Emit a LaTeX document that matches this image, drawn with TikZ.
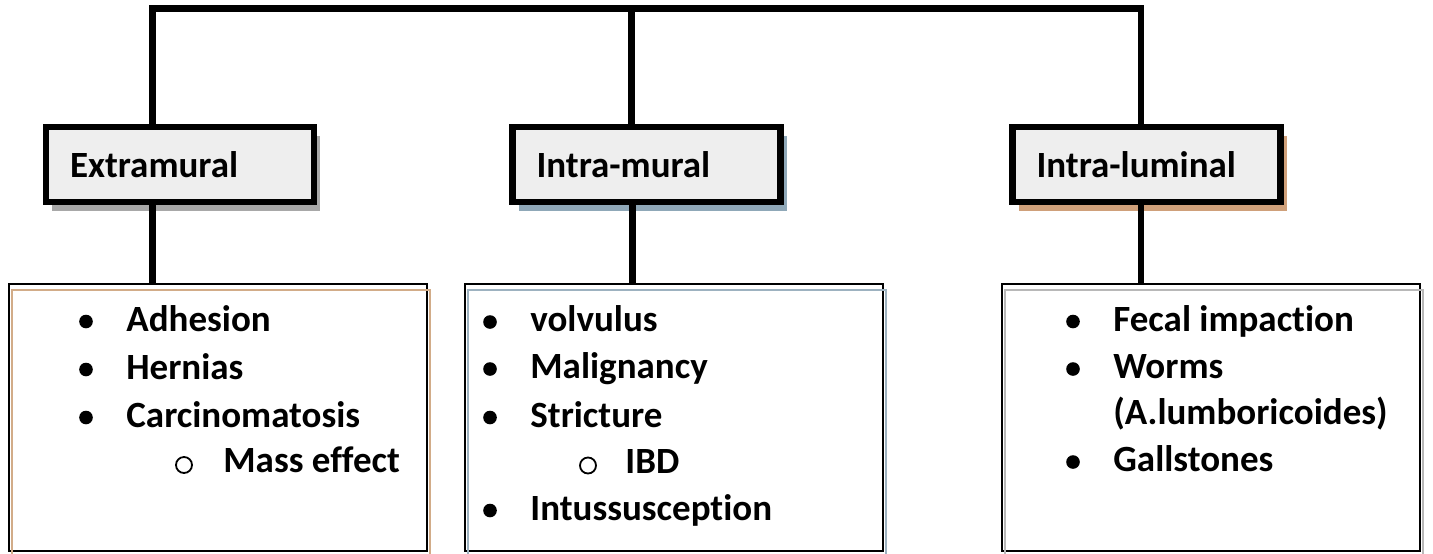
\documentclass[tikz,border=0pt]{standalone}
\usepackage{fontspec}
\setmainfont{Carlito}[Ligatures={NoCommon,NoContextual}]
\usetikzlibrary{shadows,calc}
\definecolor{hdrfill}{HTML}{EEEEEE}
\definecolor{shA}{HTML}{A8A8A8}
\definecolor{shB}{HTML}{8FA8B8}
\definecolor{shC}{HTML}{CFA07A}
\definecolor{lnA}{HTML}{D2AC88}
\definecolor{lnB}{HTML}{9DB2C0}
\definecolor{lnC}{HTML}{B8B8B8}
\begin{document}
\begin{tikzpicture}[x=0.5pt,y=-0.5pt,
  conn/.style={line width=3.4pt},
  hdr/.style={draw, line width=3.2pt, fill=hdrfill, minimum width=134pt,
    minimum height=37.5pt, inner xsep=0pt, inner ysep=0pt, text width=110pt,
    align=left, outer sep=0pt, font=\bfseries\fontsize{18.5}{22}\selectfont},
  hshadow/.style={drop shadow={shadow xshift=3pt, shadow yshift=-4.5pt, fill=#1, opacity=1}},
  lowbox/.style={draw, line width=0.8pt, fill=white, minimum width=209pt,
    minimum height=133.75pt, inner sep=0pt, outer sep=0pt},
  inline/.style={draw=#1, line width=0.8pt},
  item/.style={anchor=base west, inner sep=0pt, font=\bfseries\fontsize{18.5}{22}\selectfont},
  dot/.style={fill=black},
  ring/.style={draw=black, line width=0.9pt}
]
\useasboundingbox (0,0) rectangle (1433,553);

% header boxes
\node[hdr, hshadow=shA] (h1) at (180,164.5) {Extramural};
\node[hdr, hshadow=shB] (h2) at (646.5,164.5) {Intra-mural};
\node[hdr, hshadow=shC] (h3) at (1146.5,164.5) {Intra-luminal};

% lower boxes
\node[lowbox] (b1) at (218,417.5) {};
\node[lowbox] (b2) at (674,417.5) {};
\node[lowbox] (b3) at (1211,417.5) {};
\draw[inline=lnA] ($(b1.south west)+(3,6)$) rectangle ($(b1.north east)+(3,6)$);
\draw[inline=lnB] ($(b2.south west)+(3,6)$) rectangle ($(b2.north east)+(3,6)$);
\draw[inline=lnC] ($(b3.south west)+(3,6)$) rectangle ($(b3.north east)+(3,6)$);

% connectors
\coordinate (tl) at (152.7,8.8);
\coordinate (tm) at (631.5,8.8);
\coordinate (tr) at (1141,8.8);
\coordinate (bm) at (632.5,250);
\draw[conn] (tl |- h1.north) -- (tl) -- (tr) -- (tr |- h3.north);
\draw[conn] (tm) -- (tm |- h2.north);
\draw[conn] (tl |- h1.south) -- (tl |- b1.north);
\draw[conn] (bm |- h2.south) -- (bm |- b2.north);
\draw[conn] (tr |- h3.south) -- (tr |- b3.north);

% left list
\fill[dot] (86,321.5) circle (3.4pt);
\fill[dot] (86,369.5) circle (3.4pt);
\fill[dot] (86,417.5) circle (3.4pt);
\draw[ring] (184,465) circle (4pt);
\node[item] (l1) at (126,331) {Adhesion};
\node[item] (l2) at (126,379) {Hernias};
\node[item] (l3) at (126,427) {Carcinomatosis};
\node[item] (l4) at (223,472) {Mass effect};

% middle list
\fill[dot] (490,322) circle (3.4pt);
\fill[dot] (490,369) circle (3.4pt);
\fill[dot] (490,417.5) circle (3.4pt);
\draw[ring] (588,465.5) circle (4pt);
\fill[dot] (490,510.5) circle (3.4pt);
\node[item] (m1) at (530,331.5) {volvulus};
\node[item] (m2) at (530,378.5) {Malignancy};
\node[item] (m3) at (530,427) {Stricture};
\node[item] (m4) at (625,473) {IBD};
\node[item] (m5) at (530,520) {Intussusception};

% right list
\fill[dot] (1073,321.5) circle (3.4pt);
\fill[dot] (1073,369) circle (3.4pt);
\fill[dot] (1073,462) circle (3.4pt);
\node[item] (r1) at (1113,331) {Fecal impaction};
\node[item] (r2) at (1113,378.5) {Worms};
\node[item] (r3) at (1113,424.5) {(A.lumboricoides)};
\node[item] (r4) at (1113,471.5) {Gallstones};
\end{tikzpicture}
\end{document}
